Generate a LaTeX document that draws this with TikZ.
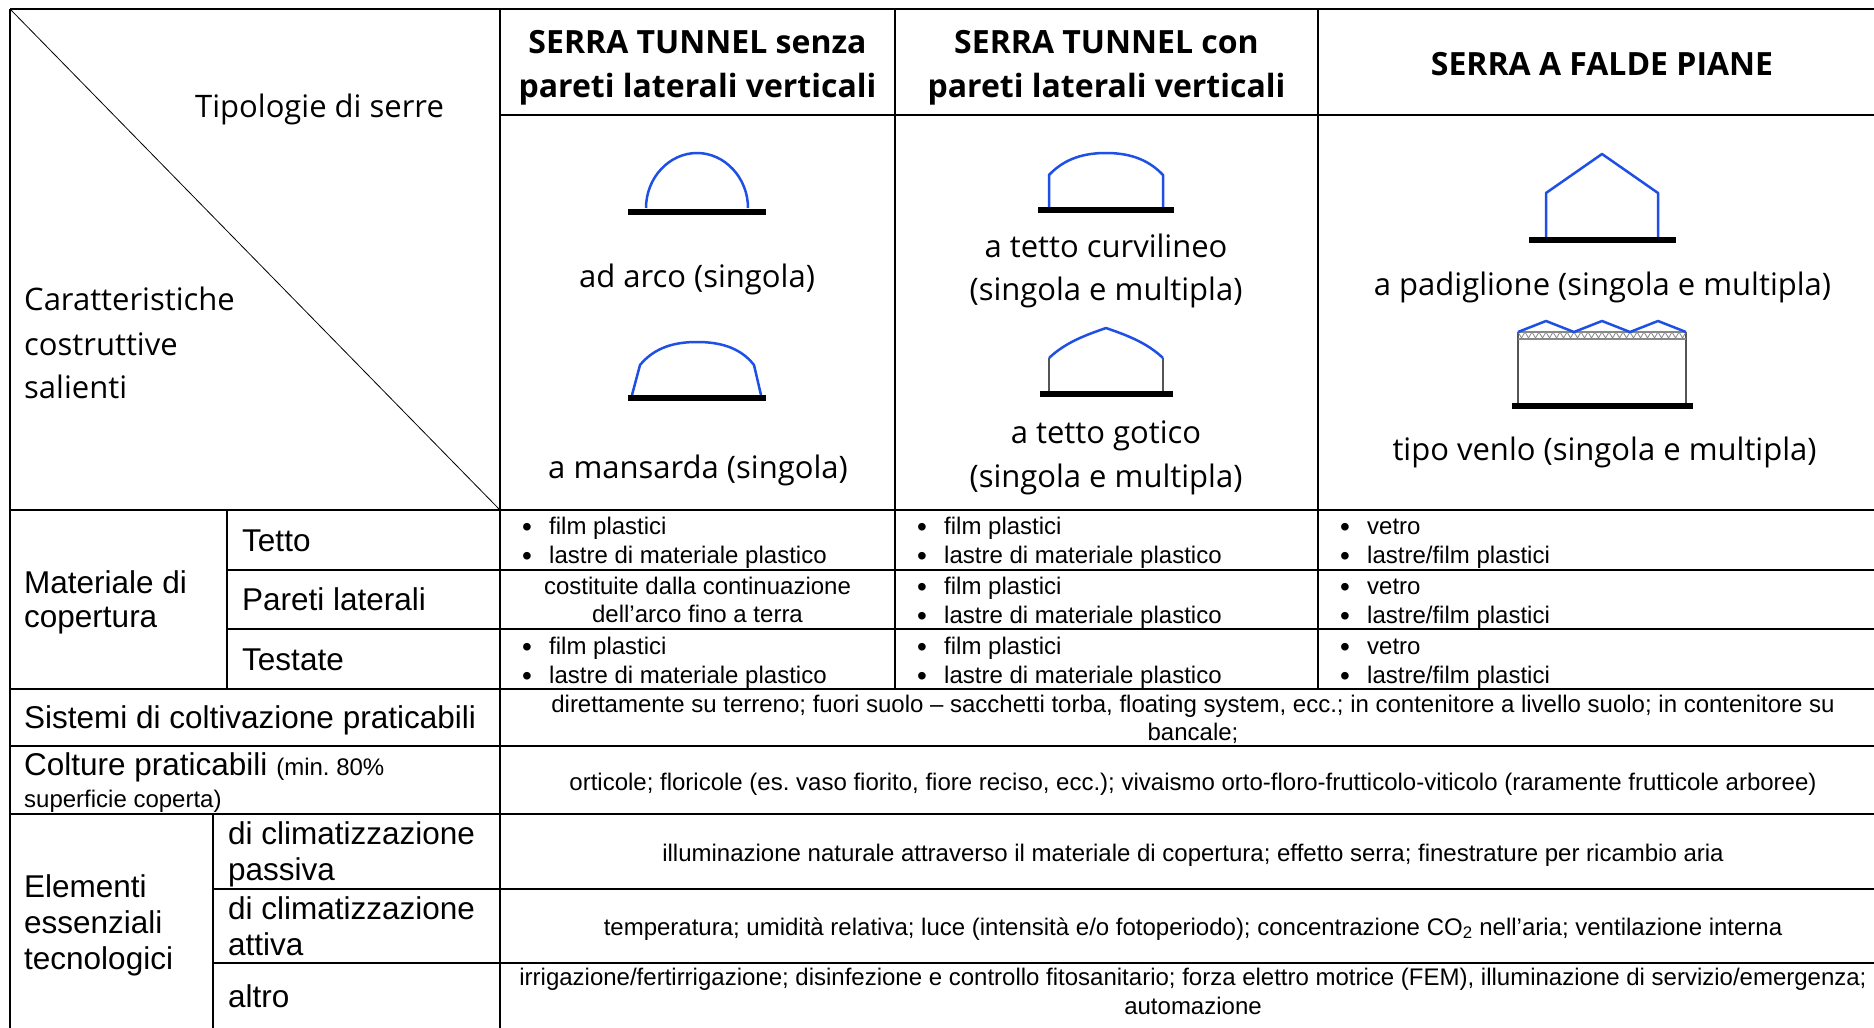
\documentclass[tikz,border=0pt]{standalone}
\usepackage{fontspec}
\setmainfont{Liberation Sans}
\newfontfamily\comicfont{Open Sans}
\definecolor{serreblue}{RGB}{30,80,230}
\definecolor{serregray}{RGB}{85,85,85}
\newcommand{\serrebul}{\makebox[27pt][l]{\raisebox{-2pt}{\fontsize{28}{28}\selectfont\textbullet}}}

\begin{document}
\frenchspacing
\begin{tikzpicture}[x=1pt, y=-1pt,
	grid/.style={line width=2pt, black},
	roof/.style={line width=2.5pt, serreblue, line join=round},
	wall/.style={line width=2.5pt, serregray},
	ground/.style={line width=6pt, black},
	txt/.style={anchor=base, inner sep=0pt, font=\fontsize{24}{28}\selectfont},
	bigtxt/.style={anchor=base west, inner sep=0pt, font=\fontsize{31.5}{36}\selectfont},
	tipo/.style={anchor=base, inner sep=0pt, font=\comicfont\fontsize{31}{36}\selectfont},
	head/.style={tipo, font=\comicfont\bfseries\fontsize{32}{36}\selectfont}]
	\useasboundingbox (0,0) rectangle (1874,1028);
	\fill[white] (0,0) rectangle (1874,1028);
	\clip (0,0) rectangle (1874,1028);

	% table grid
	\draw[grid] (10,9) -- (1880,9);
	\draw[grid] (10,9) -- (10,1030);
	\draw[grid] (500,9) -- (500,1030);
	\draw[grid] (895,9) -- (895,689);
	\draw[grid] (1318,9) -- (1318,689);
	\draw[grid] (500,115) -- (1880,115);
	\foreach \y in {510,689,746,814}
		\draw[grid] (10,\y) -- (1880,\y);
	\draw[grid] (227,510) -- (227,689);
	\foreach \y in {570,629}
		\draw[grid] (227,\y) -- (1880,\y);
	\draw[grid] (213,814) -- (213,1030);
	\foreach \y in {889,963}
		\draw[grid] (213,\y) -- (1880,\y);
	\draw[line width=0.8pt] (10,9) -- (500,510);

	% headers
	\node[head] (h1a) at (697.5,53) {SERRA TUNNEL senza};
	\node[head] (h1b) at (697.5,97) {pareti laterali verticali};
	\node[head] (h2a) at (1106.5,53) {SERRA TUNNEL con};
	\node[head] (h2b) at (1106.5,97) {pareti laterali verticali};
	\node[head] (h3) at (1602,75) {SERRA A FALDE PIANE};
	\node[tipo, anchor=base west] (tipologie) at (195,117) {Tipologie di serre};
	\node[tipo, anchor=base west] (car1) at (24,310) {Caratteristiche};
	\node[tipo, anchor=base west] (car2) at (24,355) {costruttive};
	\node[tipo, anchor=base west] (car3) at (24,398) {salienti};

	% greenhouse sketches
	\draw[roof] (646,208) .. controls (646,178) and (669,153) .. (697,153)
		.. controls (725,153) and (748,178) .. (748,208);
	\draw[ground] (628,211.5) -- (766,211.5);
	\node[tipo] (arco) at (697,287) {ad arco (singola)};
	\draw[roof] (632,395) -- (640,365) .. controls (655,347) and (675,342) .. (697,342)
		.. controls (719,342) and (740,347) .. (754,365) -- (761,395);
	\draw[ground] (628,397.5) -- (766,397.5);
	\node[tipo] (mansarda) at (698,478) {a mansarda (singola)};

	\draw[roof] (1049,207) -- (1049,175) .. controls (1065,158) and (1085,153) .. (1106,153)
		.. controls (1127,153) and (1147,158) .. (1163,175) -- (1163,207);
	\draw[ground] (1038,209.5) -- (1174,209.5);
	\node[tipo] (curv1) at (1106,257) {a tetto curvilineo};
	\node[tipo] (curv2) at (1106,300) {(singola e multipla)};
	\draw[wall] (1049,391) -- (1049,358);
	\draw[wall] (1163,391) -- (1163,358);
	\draw[roof] (1049,358) .. controls (1066,342) and (1086,335) .. (1106,328)
		.. controls (1126,335) and (1146,342) .. (1163,358);
	\draw[ground] (1040,394) -- (1173,394);
	\node[tipo] (got1) at (1106,443) {a tetto gotico};
	\node[tipo] (got2) at (1106,487) {(singola e multipla)};

	\draw[roof] (1546,237) -- (1546,193) -- (1602,154) -- (1658,193) -- (1658,237);
	\draw[ground] (1529,240) -- (1676,240);
	\node[tipo] (padiglione) at (1602.5,295) {a padiglione (singola e multipla)};
	\draw[wall] (1518,405) -- (1518,332);
	\draw[wall] (1686,405) -- (1686,332);
	\draw[serregray!70, line width=1.2pt] (1518,332) -- (1686,332) (1518,339) -- (1686,339);
	\foreach \i in {0,...,23}
		\draw[serregray!70, line width=0.8pt] (1518+7*\i,332) -- (1521.5+7*\i,338) -- (1525+7*\i,332);
	\draw[roof] (1518,332) -- (1546,321) -- (1574,332) -- (1602,321) -- (1630,332) -- (1658,321) -- (1686,332);
	\draw[ground] (1512,405.5) -- (1693,405.5);
	\node[tipo] (venlo) at (1604.5,460) {tipo venlo (singola e multipla)};

	% materiale di copertura
	\node[bigtxt] (mat1) at (24,593) {Materiale di};
	\node[bigtxt] (mat2) at (24,627) {copertura};
	\node[bigtxt] (tetto) at (242,551) {Tetto};
	\node[bigtxt] (pareti) at (242,610) {Pareti laterali};
	\node[bigtxt] (testate) at (242,670) {Testate};
	\foreach \c/\n in {500/a,895/b}{
		\node[txt, anchor=base west] (tet\n1) at (\c+22,534) {\serrebul film plastici};
		\node[txt, anchor=base west] (tet\n2) at (\c+22,563) {\serrebul lastre di materiale plastico};
		\node[txt, anchor=base west] (tes\n1) at (\c+22,654) {\serrebul film plastici};
		\node[txt, anchor=base west] (tes\n2) at (\c+22,683) {\serrebul lastre di materiale plastico};
	}
	\node[txt, anchor=base west] (parb1) at (917,594) {\serrebul film plastici};
	\node[txt, anchor=base west] (parb2) at (917,623) {\serrebul lastre di materiale plastico};
	\node[txt] (para1) at (697.5,594) {costituite dalla continuazione};
	\node[txt] (para2) at (697.5,622) {dell’arco fino a terra};
	\foreach \y/\n in {534/tet,594/par,654/tes}{
		\node[txt, anchor=base west] (\n c1) at (1340,\y) {\serrebul vetro};
		\node[txt, anchor=base west] (\n c2) at (1340,\y+29) {\serrebul lastre/film plastici};
	}

	% sistemi e colture
	\node[bigtxt] (sistemi) at (24,728) {Sistemi di coltivazione praticabili};
	\node[txt] (sis1) at (1193,712) {direttamente su terreno; fuori suolo – sacchetti torba, floating system, ecc.; in contenitore a livello suolo; in contenitore su};
	\node[txt] (sis2) at (1193,740) {bancale;};
	\node[bigtxt] (colture1) at (24,775) {Colture praticabili {\fontsize{24}{28}\selectfont(min. 80\%}};
	\node[txt, anchor=base west] (colture2) at (24,807) {superficie coperta)};
	\node[txt] (col1) at (1193,790) {orticole; floricole (es. vaso fiorito, fiore reciso, ecc.); vivaismo orto-floro-frutticolo-viticolo (raramente frutticole arboree)};

	% elementi essenziali tecnologici
	\node[bigtxt] (ele1) at (24,897) {Elementi};
	\node[bigtxt] (ele2) at (24,933) {essenziali};
	\node[bigtxt] (ele3) at (24,969) {tecnologici};
	\node[bigtxt] (pas1) at (228,844) {di climatizzazione};
	\node[bigtxt] (pas2) at (228,880) {passiva};
	\node[bigtxt] (att1) at (228,919) {di climatizzazione};
	\node[bigtxt] (att2) at (228,955) {attiva};
	\node[bigtxt] (altro) at (228,1007) {altro};
	\node[txt] (pas) at (1193,861) {illuminazione naturale attraverso il materiale di copertura; effetto serra; finestrature per ricambio aria};
	\node[txt] (att) at (1193,935) {temperatura; umidità relativa; luce (intensità e/o fotoperiodo); concentrazione CO\textsubscript{2} nell’aria; ventilazione interna};
	\node[txt] (alt1) at (1193,985) {irrigazione/fertirrigazione; disinfezione e controllo fitosanitario; forza elettro motrice (FEM), illuminazione di servizio/emergenza;};
	\node[txt] (alt2) at (1193,1014) {automazione};
\end{tikzpicture}
\end{document}
